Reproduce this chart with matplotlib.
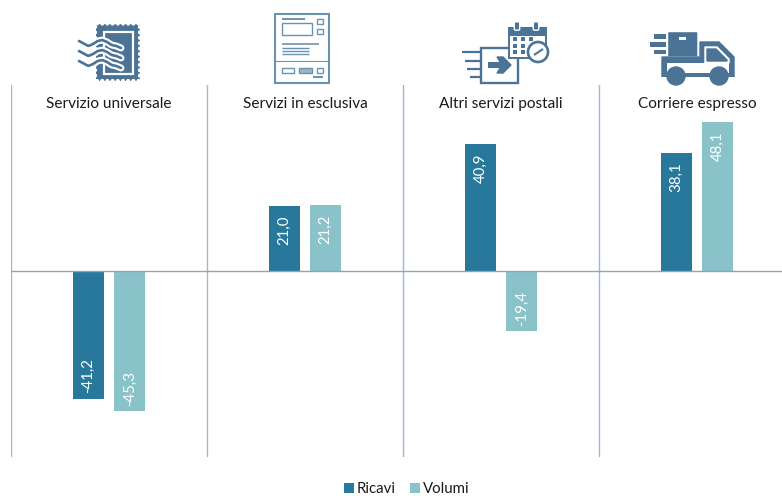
import numpy as np
import matplotlib
matplotlib.use('Agg')
import matplotlib.pyplot as plt
from matplotlib.patches import Rectangle, Circle, Polygon, FancyBboxPatch

plt.rcParams['font.family'] = ['Lato', 'DejaVu Sans']

categories = ['Servizio universale', 'Servizi in esclusiva', 'Altri servizi postali', 'Corriere espresso']
ricavi = [-41.2, 21.0, 40.9, 38.1]
volumi = [-45.3, 21.2, -19.4, 48.1]

col_ricavi = '#27789A'
col_volumi = '#89C2C9'
col_icon = '#4A7396'
col_doc = '#6A93B0'
col_sep = '#9DB8D2'
col_zero = '#8CA6BE'
W, H = 782, 496

fig = plt.figure(figsize=(W / 100, H / 100), dpi=100)
ax = fig.add_axes([11 / W, 1 - 457 / H, (782 - 11) / W, (457 - 85) / H])

# Chart area: each category is 196 px wide, the last one runs off the picture
x = np.arange(len(categories))
bar_w = 30.7 / 196
offset = 20.6 / 196
b1 = ax.bar(x - offset, ricavi, bar_w, color=col_ricavi, label='Ricavi', zorder=2)
b2 = ax.bar(x + offset, volumi, bar_w, color=col_volumi, label='Volumi', zorder=2)
ax.set_xlim(-0.5, -0.5 + 771 / 196)
ax.set_ylim(-60, 60)
ax.axis('off')
ax.axhline(0, color=col_zero, lw=1, zorder=3)
for i in range(len(categories)):
    ax.axvline(i - 0.5, color=col_sep, lw=1, zorder=1)
    ax.text(i, 54, categories[i], ha='center', va='center', fontsize=11.1, color='#1A1A1A')

# Value labels sit inside the end of the bars
for bars in (b1, b2):
    for rect in bars:
        v = rect.get_height()
        ax.annotate(f'{v:.1f}'.replace('.', ','), (rect.get_x() + rect.get_width() / 2, v),
                    xytext=(0, -7 if v > 0 else 4), textcoords='offset points', rotation=90,
                    ha='center', va='top' if v > 0 else 'bottom', color='white', fontsize=10.8, zorder=4)

fig.legend(handles=[b1, b2], loc='center', bbox_to_anchor=(406.5 / W, 1 - 489 / H), ncols=2, frameon=False,
           fontsize=10.8, handlelength=0.67, handleheight=0.67, handletextpad=0.2, columnspacing=0.93,
           labelcolor='#1A1A1A', borderpad=0)

# Icons above the columns, drawn in pixel coordinates on an overlay
ic = fig.add_axes([0, 0, 1, 1], facecolor='none')
ic.set_xlim(0, W)
ic.set_ylim(H, 0)
ic.axis('off')


def box(x0, y0, x1, y1, fill=None, edge=None, lw=1.2):
    ic.add_patch(Rectangle((x0, y0), x1 - x0, y1 - y0, facecolor=fill or 'none', edgecolor=edge or 'none', lw=lw))


def seg(x0, y0, x1, y1, lw=1.2, color=col_icon):
    ic.plot([x0, x1], [y0, y1], color=color, lw=lw, solid_capstyle='butt')


# Stamp
box(95.5, 24, 139.5, 80.5, fill=col_icon)
for px in np.arange(97, 140, 5.2):
    ic.add_patch(Circle((px, 23.5), 1.4, color='white'))
    ic.add_patch(Circle((px, 81), 1.4, color='white'))
for py in np.arange(27, 80, 5.4):
    ic.add_patch(Circle((95, py), 1.4, color='white'))
    ic.add_patch(Circle((140, py), 1.4, color='white'))
box(104, 32, 133, 74, fill=col_icon, edge='white', lw=1.6)
wave_x = np.linspace(79, 121, 40)
for y0 in (41, 51, 61):
    wave = np.array([y0, y0 + 2.5, y0 + 5, y0 + 3, y0, y0 - 1, y0 + 1, y0 + 4, y0 + 5, y0 + 7])
    wave_y = np.interp(wave_x, np.linspace(79, 121, len(wave)), wave)
    ic.plot(wave_x, wave_y, color='white', lw=5, solid_capstyle='round')
    ic.plot(wave_x, wave_y, color=col_icon, lw=1.9, solid_capstyle='round')

# Document
box(274.5, 13.5, 329, 83, fill='white', edge=col_doc, lw=1.5)
seg(282, 19, 305, 19, 1.4, col_doc)
box(282, 23, 312, 35, edge=col_doc, lw=1)
box(317, 19, 323, 24, edge=col_doc, lw=1)
box(317, 29, 323, 34, edge=col_doc, lw=1)
seg(282, 44, 319, 44, 1.2, col_doc)
for py in (48, 51, 54):
    seg(282, py, 309, py, 1, col_doc)
seg(274.5, 60.5, 329, 60.5, 0.8, col_doc)
box(282, 68, 294, 73, edge=col_doc, lw=1)
box(299, 68, 312, 73, fill='#9DB3C6', edge=col_doc, lw=1)
box(317, 68, 323, 73, edge=col_doc, lw=1)
seg(313, 77, 323, 77, 1.4, col_doc)

# Envelope with arrow and calendar
box(481, 48, 518, 83, fill='white', edge=col_icon, lw=1.7)
for py, x0 in ((52, 462), (61, 465), (69, 467), (77, 470)):
    seg(x0, py, 481, py, 1.6)
box(488, 62, 505, 68, fill=col_icon)
ic.add_patch(Polygon([[497, 57], [503, 57], [511, 65], [503, 73], [497, 73], [502, 65]], color=col_icon))
box(508.5, 28, 546, 58, fill='white', edge=col_icon, lw=1.4)
box(508, 27, 546, 36, fill=col_icon)
for px in (517, 536):
    ic.add_patch(FancyBboxPatch((px - 1.5, 23), 3, 6, boxstyle='round,pad=1.2', facecolor=col_icon, edgecolor='white', lw=1))
for px in (515, 523, 531):
    for py in (39, 46, 52):
        if px == 531 and py > 40:
            continue
        box(px - 1.8, py - 1.8, px + 1.8, py + 1.8, fill=col_icon)
ic.add_patch(Circle((538, 52), 10, facecolor='white', edgecolor=col_icon, lw=1.9))
seg(534, 55, 543, 49, 1.5)

# Truck
ic.add_patch(FancyBboxPatch((669, 33), 27.5, 22.5, boxstyle='round,pad=0.8', facecolor=col_icon, edgecolor='none'))
box(679, 37, 686, 39.5, fill='white')
box(654, 34, 666, 39, fill=col_icon)
box(650, 42, 666, 46.5, fill=col_icon)
box(654, 49.5, 666, 54, fill=col_icon)
ic.add_patch(Polygon([[662, 57], [700, 57], [700, 42], [719, 42], [734, 57], [734, 77], [662, 77]],
                     closed=True, color=col_icon))
box(667, 63, 729, 73, fill='white')
box(676, 73, 719, 77, fill=col_icon)
box(662, 77, 734, 86, fill='white')
ic.add_patch(Polygon([[705, 47], [717, 47], [729, 59], [729, 63], [705, 63]], closed=True, color='white'))
ic.add_patch(Polygon([[707, 49], [716, 49], [727, 60], [727, 61], [707, 61]], closed=True, color=col_icon))
for px in (676, 719):
    ic.add_patch(Circle((px, 76), 9, color=col_icon))

fig.savefig('out.png', dpi=100)
